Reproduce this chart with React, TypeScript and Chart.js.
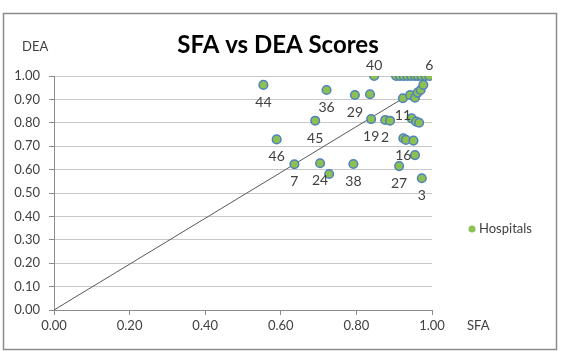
import React, { useEffect, useRef } from "react";
import { Chart, registerables } from "chart.js";

Chart.register(...registerables);

// SFA efficiency score per hospital
const sfa = [
  0.554, 0.589, 0.636, 0.691, 0.704, 0.721, 0.728, 0.792, 0.796, 0.836,
  0.839, 0.847, 0.876, 0.889, 0.913, 0.973, 0.924, 0.931, 0.951, 0.955,
  0.923, 0.942, 0.955, 0.962, 0.970, 0.977, 0.946, 0.958, 0.966,
  0.905, 0.915, 0.925, 0.935, 0.945, 0.955, 0.963, 0.972, 0.983, 0.993,
];
// DEA efficiency score per hospital
const dea = [
  0.962, 0.729, 0.623, 0.809, 0.627, 0.940, 0.581, 0.624, 0.919, 0.922,
  0.816, 1.0, 0.812, 0.809, 0.615, 0.563, 0.734, 0.727, 0.724, 0.662,
  0.905, 0.919, 0.907, 0.929, 0.940, 0.962, 0.819, 0.805, 0.800,
  1.0, 1.0, 1.0, 1.0, 1.0, 1.0, 1.0, 1.0, 1.0, 1.0,
];
// hospital numbers shown next to selected points
const hospitalIds = [
  "44", "46", "7", "45", "24", "36", "", "38", "29", "",
  "19", "40", "2", "", "27", "3", "16", "", "", "",
  "11", "", "", "", "", "", "", "", "",
  "", "", "", "", "", "", "", "", "", "6",
];
const idsAbove = ["40", "6"];

// reference line
const refSfa = [0, 0.99];
const refDea = [0, 0.97];

const FONT = "Lato, 'Open Sans', sans-serif";
const TEXT = "#404040";
const MARKER_FILL = "#8cc152";
const MARKER_EDGE = "#4f81bd";

const framePlugin = {
  id: "frame",
  beforeDraw(chart: any) {
    const { ctx, width, height } = chart;
    ctx.save();
    ctx.fillStyle = "#ffffff";
    ctx.fillRect(0, 0, width, height);
    ctx.strokeStyle = "#8c8c8c";
    ctx.lineWidth = 1.5;
    ctx.strokeRect(3.5, 13.5, 553, 336);
    ctx.restore();
  },
  afterDraw(chart: any) {
    const { ctx } = chart;
    ctx.save();
    ctx.fillStyle = "#000000";
    ctx.font = `bold 24px ${FONT}`;
    ctx.textAlign = "center";
    ctx.textBaseline = "middle";
    ctx.fillText("SFA vs DEA Scores", 278, 45);

    ctx.fillStyle = TEXT;
    ctx.font = `13px ${FONT}`;
    ctx.textAlign = "left";
    ctx.fillText("DEA", 22, 47);
    ctx.fillText("SFA", 467, 326);

    // legend
    ctx.beginPath();
    ctx.arc(472, 229, 3.5, 0, Math.PI * 2);
    ctx.fillStyle = MARKER_FILL;
    ctx.fill();
    ctx.fillStyle = TEXT;
    ctx.fillText("Hospitals", 479, 229);
    ctx.restore();
  },
};

const idLabelPlugin = {
  id: "idLabels",
  afterDatasetsDraw(chart: any) {
    const { ctx } = chart;
    const meta = chart.getDatasetMeta(0);
    ctx.save();
    ctx.fillStyle = TEXT;
    ctx.font = `14px ${FONT}`;
    ctx.textAlign = "center";
    ctx.textBaseline = "middle";
    meta.data.forEach((pt: any, i: number) => {
      const id = hospitalIds[i];
      if (!id) return;
      const dy = idsAbove.includes(id) ? -11 : 17.5;
      ctx.fillText(id, pt.x, pt.y + dy);
    });
    ctx.restore();
  },
};

export default function App() {
  const canvasRef = useRef<HTMLCanvasElement | null>(null);

  useEffect(() => {
    document.body.style.margin = "0";
    const canvas = canvasRef.current;
    if (!canvas) return;
    const chart = new Chart(canvas, {
      type: "scatter",
      data: {
        datasets: [
          {
            label: "Hospitals",
            data: sfa.map((x, i) => ({ x, y: dea[i] })),
            backgroundColor: MARKER_FILL,
            borderColor: MARKER_EDGE,
            borderWidth: 1.5,
            pointRadius: 4.3,
            order: 1,
          },
          {
            type: "line",
            label: "reference",
            data: refSfa.map((x, i) => ({ x, y: refDea[i] })),
            borderColor: "#595959",
            borderWidth: 1,
            pointRadius: 0,
            showLine: true,
            fill: false,
            order: 2,
          } as any,
        ],
      },
      options: {
        responsive: false,
        animation: false,
        devicePixelRatio: 1,
        layout: { padding: { left: 0, right: 133, top: 76, bottom: 0 } },
        plugins: {
          legend: { display: false },
          tooltip: { enabled: false },
          title: { display: false },
        },
        scales: {
          x: {
            type: "linear",
            min: 0,
            max: 1,
            ticks: {
              stepSize: 0.2,
              color: TEXT,
              font: { family: FONT, size: 13 },
              padding: 3,
              callback: (v: any) => Number(v).toFixed(2),
            },
            grid: {
              drawOnChartArea: false,
              drawTicks: true,
              tickLength: 5,
              tickColor: "#8c8c8c",
            },
            border: { color: "#8c8c8c", width: 1 },
            afterFit: (scale: any) => {
              scale.height = 44;
            },
          },
          y: {
            type: "linear",
            min: 0,
            max: 1,
            ticks: {
              stepSize: 0.1,
              autoSkip: false,
              color: TEXT,
              font: { family: FONT, size: 13 },
              padding: 9,
              callback: (v: any) => Number(v).toFixed(2),
            },
            grid: {
              color: "#c8c8c8",
              tickLength: 5,
              tickColor: "#8c8c8c",
            },
            border: { color: "#8c8c8c", width: 1 },
            afterFit: (scale: any) => {
              scale.width = 54;
            },
          },
        },
      },
      plugins: [framePlugin, idLabelPlugin],
    });
    return () => chart.destroy();
  }, []);

  return (
    <div style={{ position: "absolute", left: 0, top: 0, width: 565, height: 354 }}>
      <canvas ref={canvasRef} width={565} height={354} style={{ width: 565, height: 354 }} />
    </div>
  );
}
